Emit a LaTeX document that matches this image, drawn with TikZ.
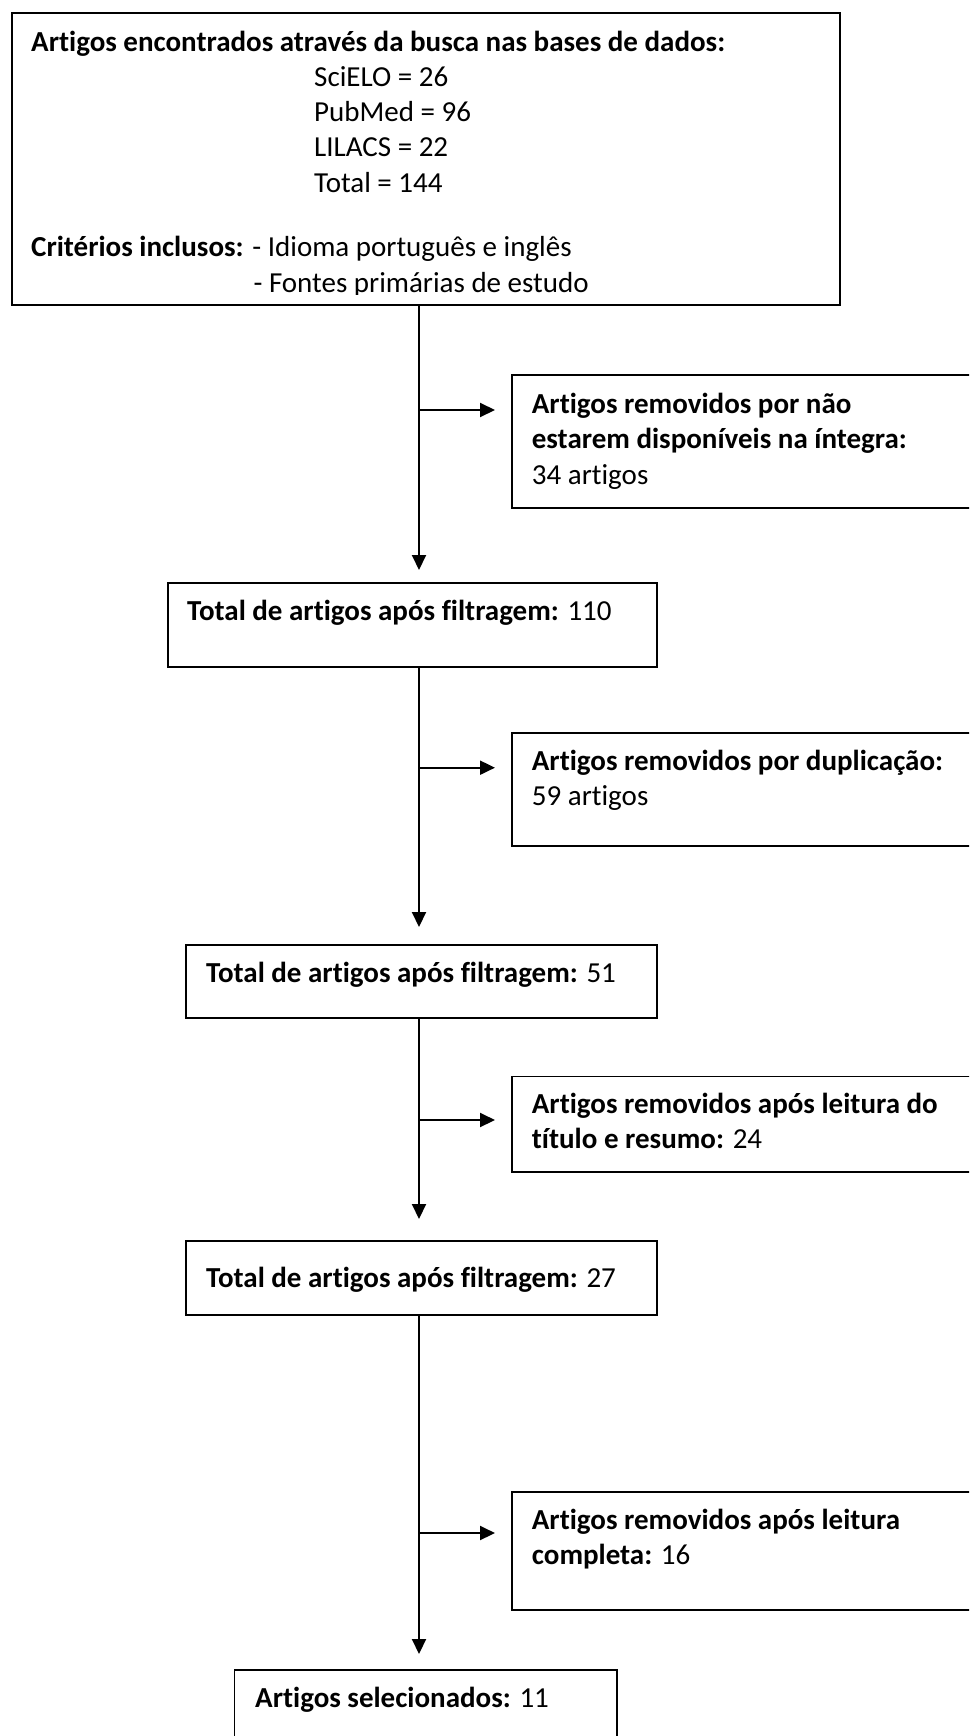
\documentclass[tikz,border=0pt]{standalone}
\usepackage{fontspec}
\setmainfont{Carlito}[Ligatures=NoCommon]
\usetikzlibrary{arrows.meta}
\begin{document}
\begin{tikzpicture}[x=1pt,y=-1pt,
  box/.style={draw=black, line width=1.8pt, rectangle, inner sep=0pt, anchor=north west},
  txt/.style={anchor=base west, inner sep=0pt, font=\fontsize{29}{35.5}\selectfont},
  arr/.style={line width=2pt, -{Triangle[length=15pt,width=14pt]}},
  ln/.style={line width=2pt}]
\path[use as bounding box, clip] (0,0) rectangle (969,1736);
% boxes
\node[box, minimum width=828.3pt, minimum height=292pt] (b1) at (10.7,12) {};
\node[box, minimum width=470pt, minimum height=132.4pt] (b2) at (510.7,374.3) {};
\node[box, minimum width=489pt, minimum height=84pt] (b3) at (167,582) {};
\node[box, minimum width=470pt, minimum height=113.3pt] (b4) at (510.7,731.7) {};
\node[box, minimum width=471pt, minimum height=73pt] (b5) at (185,944) {};
\node[box, minimum width=470pt, minimum height=95.5pt] (b6) at (510.7,1075.5) {};
\node[box, minimum width=471pt, minimum height=74pt] (b7) at (185,1240) {};
\node[box, minimum width=470pt, minimum height=118pt] (b8) at (510.7,1491) {};
\node[box, minimum width=382.5pt, minimum height=90pt] (b9) at (233.5,1669) {};
% box 1 text
\begin{scope}
\clip (10.7,12) rectangle (839,294.3);
\node[txt] (t1) at (31,52) {\textbf{Artigos encontrados através da busca nas bases de dados:}};
\node[txt] (t2) at (314,86.6) {SciELO = 26};
\node[txt] (t3) at (314,122) {PubMed = 96};
\node[txt] (t4) at (314,157) {LILACS = 22};
\node[txt] (t5) at (314,193) {Total = 144};
\node[txt] (t6) at (31,256) {\textbf{Critérios inclusos:} - Idioma português e inglês};
\node[txt] (t7) at (253.4,292) {- Fontes primárias de estudo};
\end{scope}
% other texts
\node[txt] (t8) at (531.7,413) {\textbf{Artigos removidos por não}};
\node[txt] (t9) at (531.7,448.5) {\textbf{estarem disponíveis na íntegra:}};
\node[txt] (t10) at (531.7,484) {34 artigos};
\node[txt] (t11) at (187,620) {\textbf{Total de artigos após filtragem:} 110};
\node[txt] (t12) at (531.7,770) {\textbf{Artigos removidos por duplicação:}};
\node[txt] (t13) at (531.7,805.5) {59 artigos};
\node[txt] (t14) at (206,982) {\textbf{Total de artigos após filtragem:} 51};
\node[txt] (t15) at (531.7,1113) {\textbf{Artigos removidos após leitura do}};
\node[txt] (t16) at (531.7,1148.5) {\textbf{título e resumo:} 24};
\node[txt] (t17) at (206,1287) {\textbf{Total de artigos após filtragem:} 27};
\node[txt] (t18) at (531.7,1529) {\textbf{Artigos removidos após leitura}};
\node[txt] (t19) at (531.7,1564.5) {\textbf{completa:} 16};
\node[txt] (t20) at (255,1707) {\textbf{Artigos selecionados:} 11};
% connector coordinates
\coordinate (a1) at (419,570);
\coordinate (a2) at (419,927);
\coordinate (a3) at (419,1219);
\coordinate (a4) at (419,1654);
\coordinate (j1) at (419,410);
\coordinate (j2) at (419,767.7);
\coordinate (j3) at (419,1120);
\coordinate (j4) at (419,1533);
% connectors
\draw[arr] (a1 |- b1.south) -- (a1);
\draw[arr] (a2 |- b3.south) -- (a2);
\draw[arr] (a3 |- b5.south) -- (a3);
\draw[arr] (a4 |- b7.south) -- (a4);
\draw[arr, shorten >=15.7pt] (j1) -- (j1 -| b2.west);
\draw[arr, shorten >=15.7pt] (j2) -- (j2 -| b4.west);
\draw[arr, shorten >=15.7pt] (j3) -- (j3 -| b6.west);
\draw[arr, shorten >=15.7pt] (j4) -- (j4 -| b8.west);
\end{tikzpicture}
\end{document}
